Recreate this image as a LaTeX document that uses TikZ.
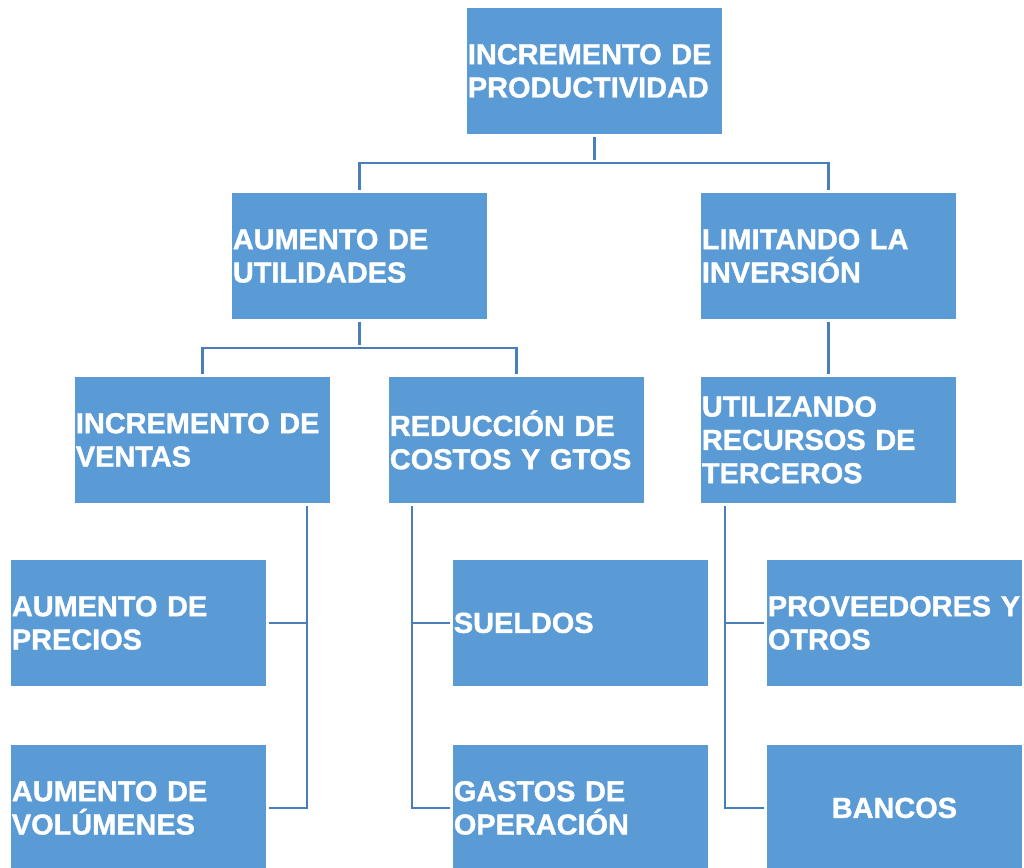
\documentclass[tikz,border=0pt]{standalone}
\usepackage{fontspec}
\setmainfont{Liberation Sans}[BoldFeatures={FakeBold=1.2}]
\definecolor{boxblue}{RGB}{91,155,213}
\definecolor{lineblue}{RGB}{74,126,187}
\begin{document}
\begin{tikzpicture}[x=1pt,y=1pt,
  box/.style={draw=white, line width=0.8pt, fill=boxblue, text=white, anchor=north west,
    minimum width=256pt, minimum height=127pt, text width=253pt, inner xsep=1.5pt, inner ysep=0pt,
    align=left, font=\bfseries\fontsize{28.9}{33.3}\selectfont},
  conn/.style={draw=lineblue, line width=2.4pt, shorten <=2.5pt, shorten >=2.5pt}]
\useasboundingbox (0,0) rectangle (1024,-867);
\fill[white] (0,0) rectangle (1024,-867);
\node[box] (top) at (466,-7) {INCREMENTO~DE\\PRODUCTIVIDAD};
\node[box] (aum) at (231,-192) {AUMENTO~DE\\UTILIDADES};
\node[box] (lim) at (700,-192) {LIMITANDO~LA\\INVERSIÓN};
\node[box] (ven) at (74,-376) {INCREMENTO~DE\\VENTAS};
\node[box] (red) at (388,-376) {REDUCCIÓN~DE\\COSTOS~Y~GTOS};
\node[box] (uti) at (700,-376) {UTILIZANDO\\RECURSOS~DE\\TERCEROS};
\node[box] (pre) at (10,-559) {AUMENTO~DE\\PRECIOS};
\node[box] (vol) at (10,-744) {AUMENTO~DE\\VOLÚMENES};
\node[box] (sue) at (452,-559) {SUELDOS};
\node[box] (gas) at (452,-744) {GASTOS~DE\\OPERACIÓN};
\node[box] (pro) at (766,-559) {PROVEEDORES~Y\\OTROS};
\node[box, align=center] (ban) at (766,-744) {BANCOS};
% connectors
\coordinate (j1) at ([yshift=-28pt]top.south);
\draw[conn] (top.south) -- (j1);
\draw[conn, shorten <=0pt] (j1) -| (aum.north);
\draw[conn, shorten <=0pt] (j1) -| (lim.north);
\coordinate (j2) at ([yshift=-28pt]aum.south);
\draw[conn] (aum.south) -- (j2);
\draw[conn, shorten <=0pt] (j2) -| (ven.north);
\draw[conn, shorten <=0pt] (j2) -| (red.north);
\draw[conn] (lim.south) -- (uti.north);
\draw[conn] ([xshift=-24pt]ven.south east) |- (pre.east);
\draw[conn] ([xshift=-24pt]ven.south east) |- (vol.east);
\draw[conn] ([xshift=24pt]red.south west) |- (sue.west);
\draw[conn] ([xshift=24pt]red.south west) |- (gas.west);
\draw[conn] ([xshift=25pt]uti.south west) |- (pro.west);
\draw[conn] ([xshift=25pt]uti.south west) |- (ban.west);
\end{tikzpicture}
\end{document}
